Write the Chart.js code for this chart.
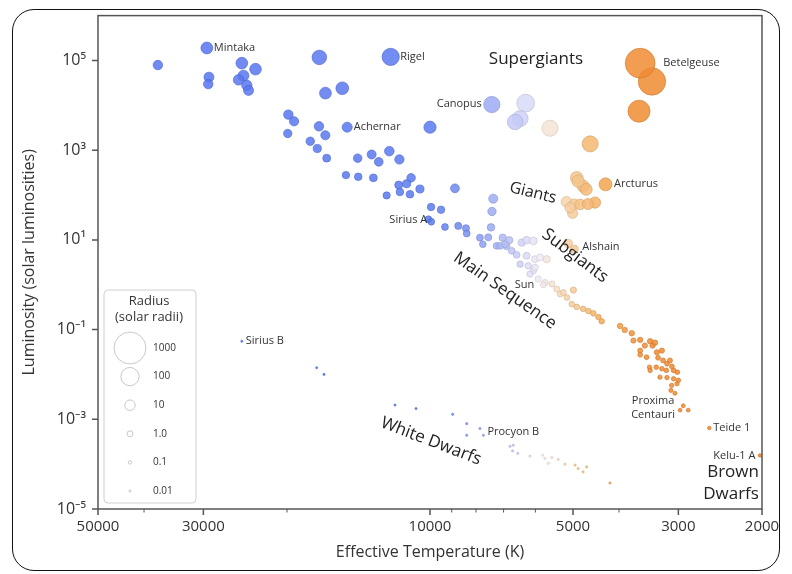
<!DOCTYPE html>
<html><head><meta charset="utf-8">
<script src="https://cdn.jsdelivr.net/npm/chart.js@4.4.0/dist/chart.umd.min.js"></script>
<style>
html,body{margin:0;padding:0;background:#fff;}
#wrap{position:relative;width:792px;height:574px;overflow:hidden;background:#fff;}
#frame{position:absolute;left:12px;top:9px;width:768px;height:562px;border:1.6px solid #111;border-radius:22px;box-sizing:border-box;}
canvas{position:absolute;left:0;top:0;}
</style></head>
<body><div id="wrap"><div id="frame"></div><canvas id="c" width="792" height="574"></canvas></div>
<script>
// ---------- axis ticks ----------
const xTicks = [50000, 30000, 10000, 5000, 3000, 2000];
const xMinorTicks = [40000, 20000, 9000, 8000, 7000, 6000, 4000];
const yTicks = [1e5, 1e3, 1e1, 1e-1, 1e-3, 1e-5];
const yTickLabels = ['10\u2075', '10\u00b3', '10\u00b9', '10\u207b\u00b9', '10\u207b\u00b3', '10\u207b\u2075'];

// ---------- named stars (K, solar luminosities) ----------
const namedStars = ['Mintaka', 'Rigel', 'Canopus', 'Betelgeuse', 'Achernar', 'Arcturus', 'Sirius A', 'Alshain', 'Sun', 'Proxima Centauri', 'Sirius B', 'Procyon B', 'Teide 1', 'Kelu-1 A'];
const namedTemps = [29500, 12100, 7410, 3610, 14940, 4270, 9940, 4970, 5772, 2975, 24900, 7720, 2582, 2020];
const namedLums  = [1.9e5, 1.2e5, 1.04e4, 8.7e4, 3.25e3, 173, 25.4, 6.2, 1.0, 0.0016, 0.055, 0.00044, 0.00064, 0.000156];

// ---------- bright stars / supergiants ----------
const brightTemps = [37400, 24900, 23300, 29200, 29300, 24700, 25300, 24300, 24100, 17100, 16600, 15300, 6290, 6460, 6620, 5590, 3410, 3630, 4600];
const brightLums  = [7.9e4, 8.7e4, 6.4e4, 4.25e4, 2.97e4, 4.6e4, 3.7e4, 2.8e4, 2.15e4, 1.17e5, 1.87e4, 2.4e4, 1.12e4, 5.06e3, 4.26e3, 3.08e3, 3.4e4, 7.4e3, 1.38e3];

// ---------- main sequence ----------
const mainSeqTemps = [19870, 19330, 19930, 17130, 16610, 10000, 17870, 17270, 16500, 14200, 13270, 12820, 12180, 11600, 15030, 14160, 13160, 10960, 11640, 11200, 11570, 12340, 11020, 10500, 8860, 9950, 9480, 10080, 9300, 8720, 8400, 8370, 7360, 7405, 7440, 7850, 7740, 7540, 7240, 7030, 6810, 7120, 6900, 6730, 6570, 6410, 6260, 6060, 6460, 6260, 6010, 5870, 5680, 6210, 6060, 6160, 5920, 5730, 5540, 5410, 5320, 5150, 4990, 5030, 4910, 4760, 4640, 4530, 4420, 4350, 3980, 3890, 3760, 3730, 3610, 6950, 6010, 5240, 3440, 3400, 3610, 3610, 3500, 3330, 3250, 3310, 3230, 3170, 3450, 3440, 3340, 3250, 3180, 3070, 3015, 3280, 3170, 3070, 3000, 3100, 3020, 3110, 3050, 2930, 2860, 3530, 3360, 3125, 3095];
const mainSeqLums  = [6200, 4400, 2350, 3400, 2150, 3250, 1580, 1090, 664, 664, 802, 550, 950, 621, 278, 255, 242, 242, 167, 178, 117, 98, 104, 136, 141, 54, 47, 28.8, 19.4, 20.5, 18.2, 13.9, 82.8, 43, 19, 11.2, 8.0, 11.4, 7.36, 11.2, 9.85, 7.36, 7.24, 5.7, 4.64, 8.7, 9.85, 9.5, 2.88, 4.41, 3.72, 4.05, 3.72, 2.64, 2.05, 1.73, 1.34, 1.12, 1.04, 0.80, 0.62, 0.52, 0.76, 0.37, 0.32, 0.29, 0.26, 0.23, 0.19, 0.153, 0.12, 0.098, 0.083, 0.057, 0.059, 8.0, 2.42, 0.67, 0.055, 0.044, 0.034, 0.0274, 0.0242, 0.0313, 0.034, 0.0235, 0.0205, 0.0173, 0.0145, 0.0123, 0.0145, 0.0134, 0.0123, 0.0123, 0.0112, 0.0087, 0.0085, 0.0080, 0.0074, 0.0057, 0.0062, 0.0044, 0.0038, 0.0020, 0.0016, 0.044, 0.051, 0.0205, 0.0151];

// ---------- giants & subgiants ----------
const giantTemps = [4910, 4760, 4690, 4495, 5160, 4970, 4830, 4650, 5010, 5070, 4880, 5115];
const giantLums  = [242, 158, 134, 68, 71, 62, 61.5, 63, 39, 52, 205, 8.3];

// ---------- white dwarfs ----------
const whiteDwarfTemps = [17320, 16720, 11850, 10700, 8960, 8370, 8370, 7850, 6785, 6680, 6700, 6535, 6160, 5790, 5730, 5635, 5540, 5370, 5200, 4950, 4875, 4760, 4680, 4180];
const whiteDwarfLums  = [0.0141, 0.010, 0.00208, 0.00173, 0.00129, 0.0008, 0.00044, 0.00062, 0.00025, 0.000264, 0.000198, 0.000173, 0.000151, 0.000158, 0.000134, 0.000104, 0.000141, 0.000127, 0.0001, 9.5e-5, 8.0e-5, 6.7e-5, 8.7e-5, 3.8e-5];

// ---------- region labels ----------
const regionNames = ['Supergiants', 'Giants', 'Subgiants', 'Main Sequence', 'White Dwarfs'];
const regionTemps = [5983, 6071, 4950, 6953, 9952];
const regionLums  = [1.05e5, 111, 4.4, 0.736, 3.24e-4];
const brownDwarfLines = ['Brown', 'Dwarfs'];
const brownDwarfTemp = 2030;
const brownDwarfLum = 3.78e-5;

// ---------- size legend ----------
const legendRadii  = [1000, 100, 10, 1, 0.1, 0.01];
const legendLabels = ['1000', '100', '10', '1.0', '0.1', '0.01'];

// ---------- styling ----------
const FONT = '"Open Sans", "Noto Sans", sans-serif';
const regionStyle = {size: [17, 16, 17, 17, 17], angle: [0, 14, 37, 35, 21]};
const labelLayout = {
  'Mintaka': {dx: 7, dy: 0, align: 'left'},
  'Rigel': {dx: 9.5, dy: 0, align: 'left'},
  'Canopus': {dx: -10, dy: -1, align: 'right'},
  'Betelgeuse': {dx: 23, dy: 0, align: 'left'},
  'Achernar': {dx: 6.5, dy: 0, align: 'left'},
  'Arcturus': {dx: 8.5, dy: 0, align: 'left'},
  'Sirius A': {dx: -4, dy: -1.5, align: 'right'},
  'Alshain': {dx: 8, dy: -2, align: 'left'},
  'Sun': {dx: -9, dy: 0, align: 'right'},
  'Proxima Centauri': {dx: -27, dy: -9, align: 'center', lines: ['Proxima', 'Centauri'], lh: 14},
  'Sirius B': {dx: 4, dy: 0, align: 'left'},
  'Procyon B': {dx: 4, dy: -3, align: 'left'},
  'Teide 1': {dx: 4, dy: 0, align: 'left'},
  'Kelu-1 A': {dx: -4.5, dy: 0, align: 'right'}
};
const cmapT = [2000, 3600, 4300, 4900, 5500, 5900, 6400, 7200, 8500, 10000, 50000];
const cmapC = [[238,128,38],[240,140,50],[243,166,82],[246,198,140],[248,226,204],[240,236,246],[210,212,248],[165,178,244],[115,140,240],[90,122,240],[86,116,240]];

function tempRGB(T) {
  const lt = Math.log10(T);
  if (T <= cmapT[0]) return cmapC[0];
  for (let i = 1; i < cmapT.length; i++) {
    if (T <= cmapT[i]) {
      const a = Math.log10(cmapT[i-1]), b = Math.log10(cmapT[i]);
      const f = (lt - a) / (b - a);
      return cmapC[i-1].map((c, k) => c + (cmapC[i][k] - c) * f);
    }
  }
  return cmapC[cmapC.length - 1];
}
function rgba(c, a, k) { k = k || 1; return `rgba(${Math.round(c[0]*k)},${Math.round(c[1]*k)},${Math.round(c[2]*k)},${a})`; }
// Stefan-Boltzmann: radius in solar radii from temperature and luminosity
function stellarRadius(T, L) { return Math.sqrt(L) * Math.pow(5772 / T, 2); }
function pxRadius(R) { return Math.max(1.1, 3 * Math.pow(R, 0.242)); }

function makePoints(temps, lums) { return temps.map((t, i) => ({x: t, y: lums[i]})); }
function makeDataset(label, temps, lums) {
  return {
    label, data: makePoints(temps, lums),
    pointRadius: ctx => pxRadius(stellarRadius(ctx.raw.x, ctx.raw.y)),
    pointHoverRadius: ctx => pxRadius(stellarRadius(ctx.raw.x, ctx.raw.y)),
    backgroundColor: ctx => rgba(tempRGB(ctx.raw.x), 0.85),
    borderColor: ctx => rgba(tempRGB(ctx.raw.x), 0.9, 0.86),
    borderWidth: 0.7
  };
}

const overlay = {
  id: 'overlay',
  afterDatasetsDraw(chart) {
    const {ctx, chartArea: a, scales: {x, y}} = chart;
    ctx.save();
    // frame
    ctx.strokeStyle = '#555'; ctx.lineWidth = 1.5;
    ctx.strokeRect(a.left, a.top, a.right - a.left, a.bottom - a.top);
    // ticks
    ctx.beginPath();
    xTicks.forEach(v => { const p = x.getPixelForValue(v); ctx.moveTo(p, a.bottom); ctx.lineTo(p, a.bottom + 6); });
    yTicks.forEach(v => { const p = y.getPixelForValue(v); ctx.moveTo(a.left - 6, p); ctx.lineTo(a.left, p); });
    ctx.stroke();
    ctx.lineWidth = 1;
    ctx.beginPath();
    xMinorTicks.forEach(v => { const p = x.getPixelForValue(v); ctx.moveTo(p, a.bottom); ctx.lineTo(p, a.bottom + 3.5); });
    ctx.stroke();

    // star names
    ctx.fillStyle = '#333';
    ctx.font = `11px ${FONT}`;
    ctx.textBaseline = 'middle';
    namedStars.forEach((n, i) => {
      const L = labelLayout[n];
      const px = x.getPixelForValue(namedTemps[i]) + L.dx;
      const py = y.getPixelForValue(namedLums[i]) + L.dy;
      ctx.textAlign = L.align;
      const lines = L.lines || [n];
      lines.forEach((t, k) => ctx.fillText(t, px, py + k * (L.lh || 0)));
    });

    // region labels
    ctx.fillStyle = '#222';
    regionNames.forEach((n, i) => {
      const px = x.getPixelForValue(regionTemps[i]);
      const py = y.getPixelForValue(regionLums[i]);
      ctx.save();
      ctx.translate(px, py);
      ctx.rotate(regionStyle.angle[i] * Math.PI / 180);
      ctx.font = `${regionStyle.size[i]}px ${FONT}`;
      ctx.textAlign = 'center'; ctx.textBaseline = 'middle';
      ctx.fillText(n, 0, 0);
      ctx.restore();
    });
    ctx.font = `17px ${FONT}`;
    ctx.textAlign = 'right';
    const bx = x.getPixelForValue(brownDwarfTemp), by = y.getPixelForValue(brownDwarfLum);
    brownDwarfLines.forEach((t, k) => ctx.fillText(t, bx, by - 11 + k * 22));

    // size legend
    const lx = a.left + 6, ly = a.bottom - 219, lw = 92, lh = 213;
    ctx.beginPath();
    ctx.roundRect(lx, ly, lw, lh, 4);
    ctx.fillStyle = 'rgba(255,255,255,0.85)'; ctx.fill();
    ctx.strokeStyle = '#d0d0d0'; ctx.lineWidth = 1; ctx.stroke();
    ctx.fillStyle = '#333'; ctx.textAlign = 'center';
    ctx.font = `13px ${FONT}`;
    ctx.fillText('Radius', lx + 45, ly + 11);
    ctx.fillText('(solar radii)', lx + 45, ly + 27);
    ctx.font = `10px ${FONT}`;
    legendRadii.forEach((R, i) => {
      const cy = ly + 58 + i * 28.6, cx = lx + 26;
      ctx.beginPath();
      ctx.arc(cx, cy, pxRadius(R), 0, Math.PI * 2);
      ctx.strokeStyle = '#c8c8c8'; ctx.lineWidth = 1; ctx.stroke();
      ctx.fillStyle = '#333'; ctx.textAlign = 'left';
      ctx.fillText(legendLabels[i], lx + 49, cy);
    });
    ctx.restore();
  }
};

new Chart(document.getElementById('c'), {
  type: 'scatter',
  data: {
    datasets: [
      makeDataset('Named stars', namedTemps, namedLums),
      makeDataset('White dwarfs', whiteDwarfTemps, whiteDwarfLums),
      makeDataset('Giants', giantTemps, giantLums),
      makeDataset('Main sequence', mainSeqTemps, mainSeqLums),
      makeDataset('Bright stars', brightTemps, brightLums)
    ]
  },
  options: {
    responsive: false, animation: false,
    layout: {padding: {left: 0, right: 30, top: 14, bottom: 0}},
    plugins: {legend: {display: false}, tooltip: {enabled: false}},
    scales: {
      x: {
        type: 'logarithmic', reverse: true, min: 2000, max: 50000,
        afterBuildTicks: s => { s.ticks = xTicks.map(v => ({value: v})); },
        afterFit: s => { s.height = 65; s.paddingLeft = 0; s.paddingRight = 0; },
        grid: {display: false, drawTicks: false},
        border: {display: false},
        ticks: {autoSkip: false, maxRotation: 0, padding: 9, color: '#333', font: {family: FONT, size: 15},
                callback: v => String(v)},
        title: {display: true, text: 'Effective Temperature (K)', color: '#333', font: {family: FONT, size: 16}, padding: {top: 0, bottom: 12}}
      },
      y: {
        type: 'logarithmic', min: 1e-5, max: 1e6,
        afterBuildTicks: s => { s.ticks = yTicks.map(v => ({value: v})); },
        afterFit: s => { s.width = 98; s.paddingTop = 0; s.paddingBottom = 0; },
        grid: {display: false, drawTicks: false},
        border: {display: false},
        ticks: {autoSkip: false, padding: 12, color: '#333', font: {family: FONT, size: 16},
                callback: v => { const i = yTicks.findIndex(t => Math.abs(Math.log10(t) - Math.log10(v)) < 1e-6); return i >= 0 ? yTickLabels[i] : ''; }},
        title: {display: true, text: 'Luminosity (solar luminosities)', color: '#333', font: {family: FONT, size: 16}, padding: {top: 20, bottom: 0}}
      }
    }
  },
  plugins: [overlay]
});
</script>
</body></html>
